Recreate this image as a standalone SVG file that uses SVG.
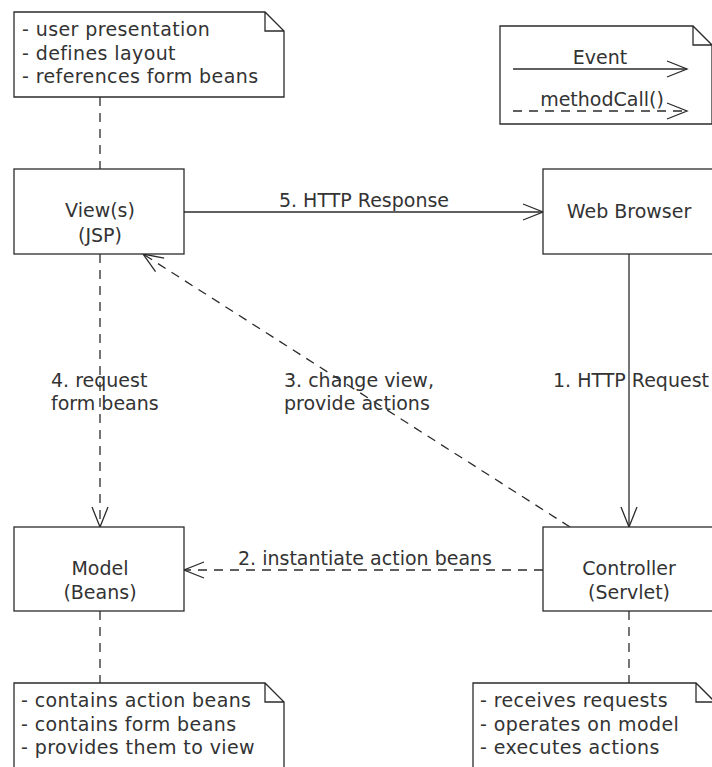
<svg xmlns="http://www.w3.org/2000/svg" width="712" height="767" viewBox="0 0 712 767">
<style>
.bg{fill:#fff}
.box{fill:#fff;stroke:#2b2b2b;stroke-width:1.3}
.t{font-family:"DejaVu Sans",sans-serif;font-size:19px;fill:#333}
.n{letter-spacing:0.4px}
.c{text-anchor:middle}
.ln{fill:none;stroke:#2b2b2b;stroke-width:1.3}
.d{stroke-dasharray:9 7}
.arr{marker-end:url(#ah)}
</style>
<defs>
<marker id="ah" markerUnits="userSpaceOnUse" viewBox="-22 -10 24 20" refX="0" refY="0" markerWidth="24" markerHeight="20" orient="auto" overflow="visible">
<path d="M-20,-8 L0,0 L-20,8" fill="none" stroke="#2b2b2b" stroke-width="1.3"/>
</marker>
</defs>
<rect class="bg" x="0" y="0" width="712" height="767"/>

<g id="connectors">
<path class="ln d" d="M100,97 V169"/>
<path class="ln arr" d="M184,212 H543"/>
<path class="ln arr" d="M629,254 V527"/>
<path class="ln d arr" d="M100,254 V527"/>
<path class="ln d arr" d="M570,527 L143,254"/>
<path class="ln d arr" d="M543,570 H184"/>
<path class="ln d" d="M100,611 V683"/>
<path class="ln d" d="M629,611 V683"/>
<text class="t c" x="364" y="207">5. HTTP Response</text>
<text class="t" x="553" y="387">1. HTTP Request</text>
<text class="t" x="284" y="387">3. change view,</text>
<text class="t" x="284" y="410">provide actions</text>
<text class="t" x="51" y="387">4. request</text>
<text class="t" x="51" y="410">form beans</text>
<text class="t c" x="365" y="565">2. instantiate action beans</text>
</g>

<g id="note-view">
<path class="box" d="M14,12 H265 L284,31 V97 H14 Z M265,12 V31 H284"/>
<text class="t n" x="22" y="36">- user presentation</text>
<text class="t n" x="22" y="59.5">- defines layout</text>
<text class="t n" x="22" y="83">- references form beans</text>
</g>

<g id="legend">
<path class="box" d="M500,26 H693 L712,45 V124 H500 Z M693,26 V45 H712"/>
<path class="ln arr" d="M513,69 H687"/>
<path class="ln d arr" d="M513,111 H687"/>
<text class="t c" x="600" y="64">Event</text>
<text class="t c" x="602" y="106">methodCall()</text>
</g>

<g id="view">
<rect class="box" x="14" y="169" width="170" height="85"/>
<text class="t c" x="100" y="217">View(s)</text>
<text class="t c" x="100" y="242">(JSP)</text>
</g>

<g id="browser">
<rect class="box" x="543" y="169" width="171" height="85"/>
<text class="t c" x="629" y="217.5">Web Browser</text>
</g>

<g id="model">
<rect class="box" x="14" y="527" width="170" height="84"/>
<text class="t c" x="100" y="575">Model</text>
<text class="t c" x="100" y="599">(Beans)</text>
</g>

<g id="controller">
<rect class="box" x="543" y="527" width="171" height="84"/>
<text class="t c" x="629" y="575">Controller</text>
<text class="t c" x="629" y="599">(Servlet)</text>
</g>

<g id="note-model">
<path class="box" d="M14,683 H265 L284,702 V790 H14 Z M265,683 V702 H284"/>
<text class="t n" x="21" y="707">- contains action beans</text>
<text class="t n" x="21" y="730.5">- contains form beans</text>
<text class="t n" x="21" y="754">- provides them to view</text>
</g>

<g id="note-controller">
<path class="box" d="M473,683 H696 L715,702 V790 H473 Z M696,683 V702 H715"/>
<text class="t n" x="480" y="707">- receives requests</text>
<text class="t n" x="480" y="730.5">- operates on model</text>
<text class="t n" x="480" y="754">- executes actions</text>
</g>
</svg>
